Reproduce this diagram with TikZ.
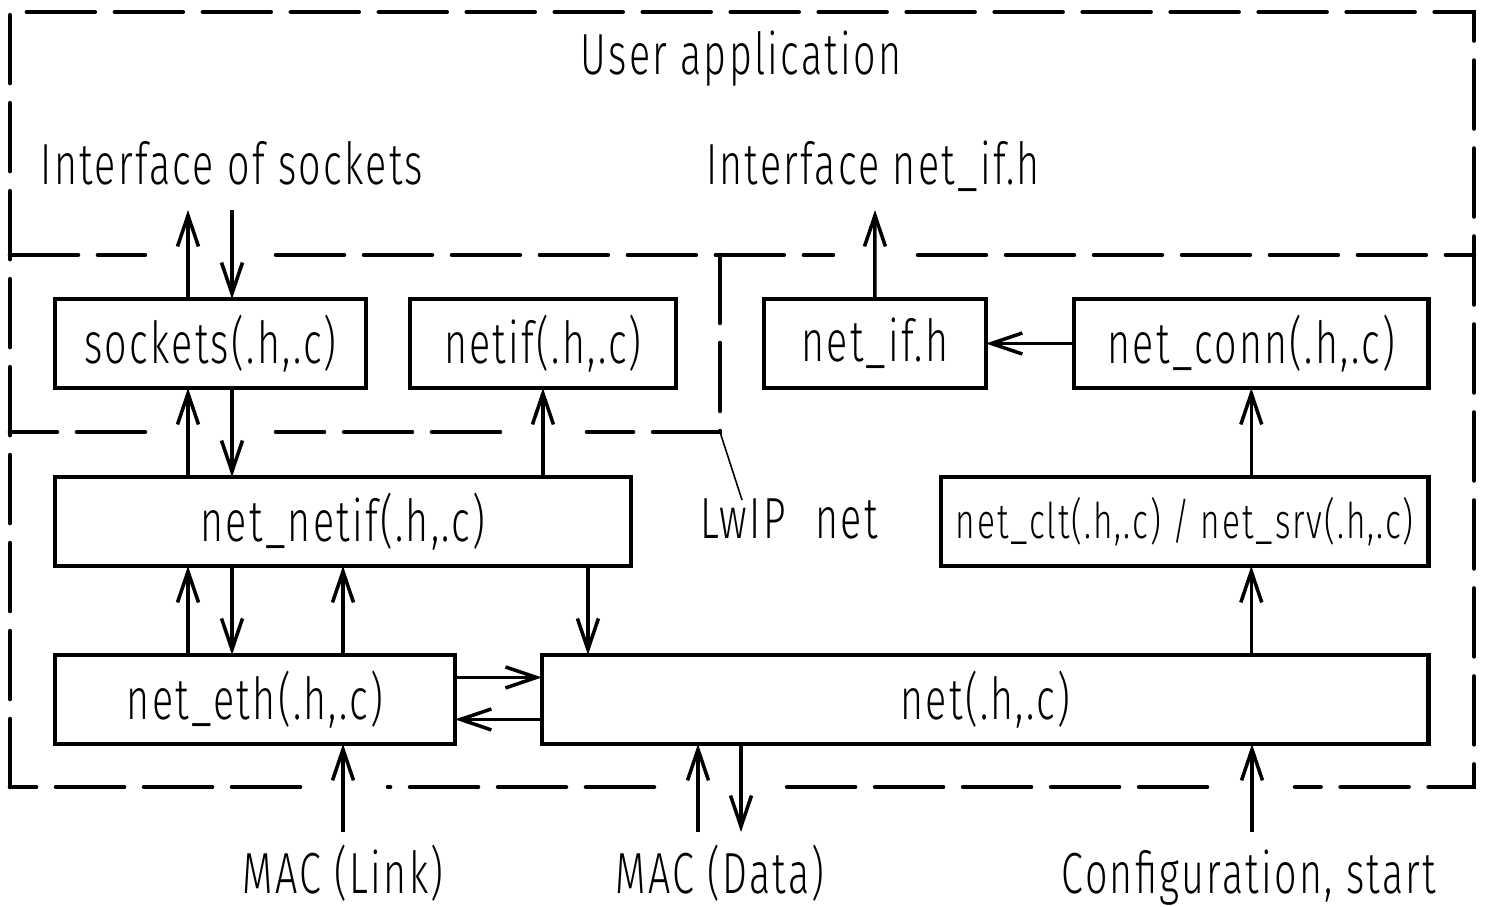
\documentclass[tikz,border=0pt]{standalone}
\usepackage{fontspec}
\setmainfont{Fira Sans Light}[FakeStretch=0.68, LetterSpace=4]
\usetikzlibrary{arrows.meta,positioning}

\begin{document}
\begin{tikzpicture}[x=0.02cm, y=-0.02cm, >={Straight Barb[length=0.62cm,width=0.42cm]}, font=\fontsize{33}{36}\selectfont]
\tikzstyle{box}=[draw, line width=2.6pt, minimum height=1.78cm, inner sep=0pt, outer sep=0pt]
\tikzstyle{frame}=[line width=2.6pt, dash pattern=on 1.36cm off 0.4cm, line cap=round]
\tikzstyle{arr}=[->, line width=2pt]
\tikzstyle{lbl}=[inner sep=0pt, anchor=base]
\useasboundingbox (0,0) rectangle (1486,906);
% frames
\draw[frame] (10,787) -- (10,12) -- (1474,12) -- (1474,787) -- (1295,787);
\draw[frame] (1207,787) -- (786,787);
\draw[frame] (654,787) -- (388,787);
\draw[frame] (300,787) -- (10,787);
\draw[frame] (10,255) -- (145,255);
\draw[frame] (276,255) -- (833,255);
\draw[frame] (918,255) -- (1474,255);
\draw[frame] (720,255) -- (720,432) -- (587,432);
\draw[frame] (500,432) -- (276,432);
\draw[frame] (145,432) -- (10,432);
% boxes
\node[box, minimum width=6.22cm] (sockets) at (210.5,343.5) {sockets(.h,.c)};
\node[box, minimum width=5.32cm, right=0.88cm of sockets] (netif) {netif(.h,.c)};
\node[box, minimum width=4.44cm, right=1.76cm of netif] (netifh) {net\_if.h};
\node[box, minimum width=7.1cm, right=1.76cm of netifh] (netconn) {net\_conn(.h,.c)};
\node[box, minimum width=11.52cm, below=1.78cm of sockets.south west, anchor=north west] (netnetif) {net\_netif(.h,.c)};
\node[box, minimum width=9.76cm, below=1.78cm of netconn.south east, anchor=north east, font=\fontsize{28}{31}\selectfont] (cltsrv) {net\_clt(.h,.c) / net\_srv(.h,.c)};
\node[box, minimum width=8cm, below=1.78cm of netnetif.south west, anchor=north west] (neteth) {net\_eth(.h,.c)};
\node[box, minimum width=17.74cm, below=1.78cm of cltsrv.south east, anchor=north east] (net) {net(.h,.c)};
% labels
\node[lbl] (userapp) at (741,74) {User application};
\node[lbl] (sockif) at (232,184) {Interface of sockets};
\node[lbl] (netifif) at (873,184) {Interface net\_if.h};
\node[lbl] (maclink) at (343,893) {MAC (Link)};
\node[lbl] (macdata) at (720,893) {MAC (Data)};
\node[lbl] (config) at (1249,893) {Configuration, start};
\node[lbl, anchor=base west] (lwip) at (700,538) {LwIP\hspace{0.6cm}net};
% free ends
\coordinate (sockup) at (188,210);
\coordinate (sockdn) at (232,210);
\coordinate (ifup) at (875,210);
\coordinate (linkin) at (343,832);
\coordinate (datain) at (698,832);
\coordinate (dataout) at (741,832);
\coordinate (cfgin) at (1252,832);
\coordinate (lwipcorner) at (720,432);
\coordinate (lwiptip) at (742,500);
% connectors
\draw[arr] (sockets.north -| sockup) -- (sockup);
\draw[arr] (sockdn) -- (sockets.north -| sockdn);
\draw[arr] (netifh.north) -- (ifup);
\draw[arr] (netconn.west) -- (netifh.east);
\draw[arr] (netnetif.north -| sockup) -- (sockets.south -| sockup);
\draw[arr] (sockets.south -| sockdn) -- (netnetif.north -| sockdn);
\draw[arr] (netnetif.north -| netif.south) -- (netif.south);
\draw[arr] (cltsrv.north -| netconn.south) -- (netconn.south);
\draw[arr] (neteth.north -| sockup) -- (netnetif.south -| sockup);
\draw[arr] (netnetif.south -| sockdn) -- (neteth.north -| sockdn);
\draw[arr] (neteth.north -| linkin) -- (netnetif.south -| linkin);
\draw[arr] ([xshift=-0.86cm]netnetif.south east) -- ([xshift=-0.86cm]netnetif.south east |- net.north);
\draw[arr] (net.north -| netconn.south) -- (cltsrv.south -| netconn.south);
\draw[arr] ([yshift=0.44cm]neteth.east) -- ([yshift=0.44cm]neteth.east -| net.west);
\draw[arr] ([yshift=-0.4cm]net.west) -- ([yshift=-0.4cm]net.west -| neteth.east);
\draw[arr] (linkin) -- (neteth.south -| linkin);
\draw[arr] (datain) -- (net.south -| datain);
\draw[arr] (net.south -| dataout) -- (dataout);
\draw[arr] (cfgin) -- (net.south -| cfgin);
\draw[line width=0.9pt] (lwipcorner) -- (lwiptip);
\end{tikzpicture}
\end{document}
